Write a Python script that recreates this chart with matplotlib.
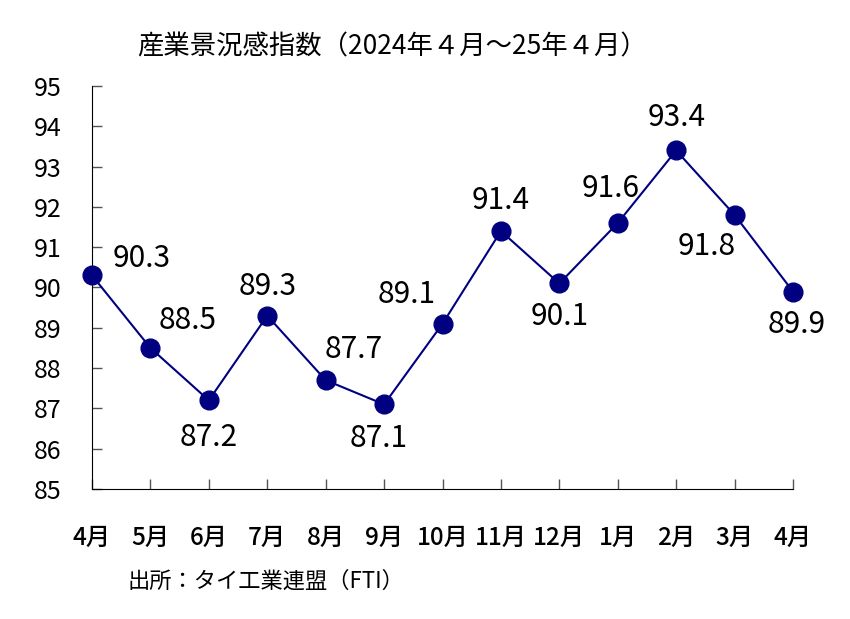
import matplotlib
matplotlib.use("Agg")
import matplotlib.pyplot as plt

plt.rcParams['font.family'] = ['Noto Sans CJK JP', 'DejaVu Sans']

months = ["4月", "5月", "6月", "7月", "8月", "9月", "10月", "11月", "12月", "1月", "2月", "3月", "4月"]
values = [90.3, 88.5, 87.2, 89.3, 87.7, 87.1, 89.1, 91.4, 90.1, 91.6, 93.4, 91.8, 89.9]
yticks = list(range(85, 96))
# label offsets in pixels (dx, dy)
offsets = [(50, 17), (37, 27), (0, -37), (0, 29), (28, 31), (-5, -34), (-36, 29),
           (0, 31), (0, -33), (-7, 35), (0, 33), (-28, -32), (4, -33)]

fig = plt.figure(figsize=(8.5, 6.19), dpi=100)
ax = fig.add_axes([92/850, 1-489/619, (793-92)/850, (489-86)/619])

x = list(range(len(values)))
ax.plot(x, values, color='#000080', lw=1.5, marker='o', markersize=13.5,
        markerfacecolor='#000080', markeredgecolor='#000080', zorder=3, clip_on=False)

for xi, v, (dx, dy) in zip(x, values, offsets):
    ax.annotate(f"{v:.1f}", (xi, v), xytext=(dx*0.72, dy*0.72), textcoords='offset points',
                ha='center', va='center', fontsize=21.5, color='black')

ax.set_xlim(0, 12)
ax.set_ylim(85, 95)
ax.set_yticks(yticks)
ax.set_yticklabels([str(t) for t in yticks], fontsize=18)
ax.set_xticks(x)
ax.set_xticklabels(months, fontsize=17.5, fontweight='medium')
ax.tick_params(axis='y', direction='in', length=7, width=1, pad=22, color='#555555')
ax.tick_params(axis='x', direction='in', length=7, width=1, pad=26, color='#555555')
ax.spines['top'].set_visible(False)
ax.spines['right'].set_visible(False)
ax.spines['left'].set_color('black')
ax.spines['bottom'].set_color('black')

fig.text(392/850, 1-47/619, "産業景況感指数（2024年４月～25年４月）", ha='center', va='center', fontsize=19)
fig.text(128/850, 1-581/619, "出所：タイ工業連盟（FTI）", ha='left', va='center', fontsize=16)

fig.savefig("out.png", dpi=100)
